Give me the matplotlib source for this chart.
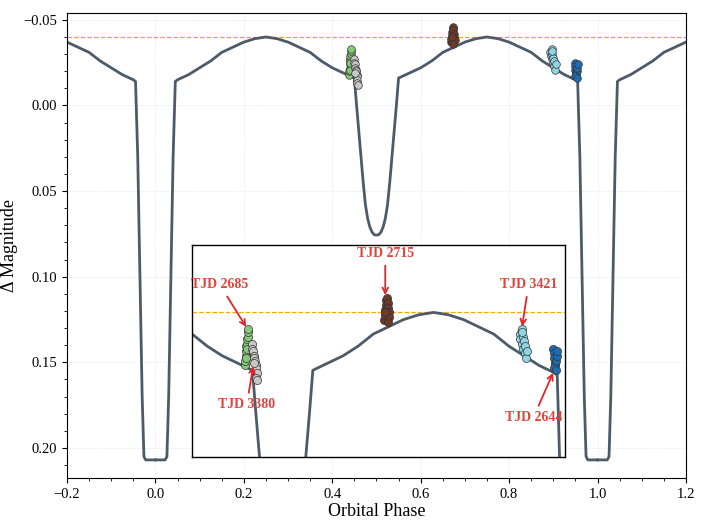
import numpy as np
import matplotlib
matplotlib.use("Agg")
import matplotlib.pyplot as plt

plt.rcParams['font.family'] = ['Liberation Serif', 'DejaVu Serif']

# model light curve, one cycle (phase, delta mag)
model_phase = [0.000, 0.022, 0.026, 0.030, 0.035, 0.040, 0.045, 0.050, 0.075, 0.100, 0.125, 0.150,
               0.175, 0.200, 0.225, 0.250, 0.275, 0.300, 0.325, 0.350, 0.375, 0.400, 0.425,
               0.450, 0.455, 0.460, 0.465, 0.470, 0.475, 0.480, 0.485, 0.490, 0.495, 0.500,
               0.505, 0.510, 0.515, 0.520, 0.525, 0.530, 0.535, 0.540, 0.545, 0.550,
               0.575, 0.600, 0.625, 0.650, 0.675, 0.700, 0.725, 0.750, 0.775, 0.800, 0.825,
               0.850, 0.875, 0.900, 0.925, 0.950, 0.955, 0.960, 0.965, 0.970, 0.974, 0.978, 1.000]
model_mag = [0.207, 0.207, 0.205, 0.170, 0.100, 0.030, -0.014, -0.015, -0.018, -0.022, -0.026, -0.031,
             -0.034, -0.037, -0.039, -0.040, -0.039, -0.037, -0.034, -0.031, -0.026, -0.022, -0.019,
             -0.016, 0.000, 0.015, 0.030, 0.045, 0.058, 0.066, 0.071, 0.074, 0.0755, 0.0757,
             0.0755, 0.074, 0.071, 0.066, 0.058, 0.045, 0.030, 0.015, 0.000, -0.016,
             -0.019, -0.022, -0.026, -0.031, -0.034, -0.037, -0.039, -0.040, -0.039, -0.037, -0.034,
             -0.031, -0.026, -0.022, -0.018, -0.015, -0.014, 0.030, 0.100, 0.170, 0.205, 0.207, 0.207]
ref_level = -0.040

# observed clusters
obs = {
    'TJD 2685': dict(color='#86c97a', phase=[0.437, 0.438, 0.439, 0.440, 0.440, 0.441, 0.441, 0.442, 0.442, 0.443, 0.439, 0.441],
                     mag=[-0.018, -0.020, -0.022, -0.024, -0.026, -0.027, -0.029, -0.030, -0.032, -0.033, -0.021, -0.025]),
    'TJD 3380': dict(color='#c8c8c8', phase=[0.449, 0.450, 0.451, 0.452, 0.453, 0.454, 0.455, 0.456, 0.457, 0.452, 0.455, 0.458],
                     mag=[-0.027, -0.025, -0.024, -0.022, -0.021, -0.020, -0.018, -0.017, -0.015, -0.019, -0.013, -0.012]),
    'TJD 2715': dict(color='#6b3a2a', phase=[0.668, 0.669, 0.670, 0.671, 0.672, 0.673, 0.674, 0.675, 0.676, 0.677, 0.670, 0.674],
                     mag=[-0.037, -0.039, -0.041, -0.043, -0.045, -0.046, -0.044, -0.042, -0.040, -0.038, -0.040, -0.036]),
    'TJD 3421': dict(color='#8fd5e3', phase=[0.893, 0.894, 0.896, 0.897, 0.898, 0.899, 0.900, 0.901, 0.902, 0.903, 0.905, 0.897],
                     mag=[-0.031, -0.029, -0.033, -0.027, -0.030, -0.025, -0.028, -0.023, -0.026, -0.021, -0.024, -0.032]),
    'TJD 2644': dict(color='#1f6bb0', phase=[0.948, 0.949, 0.950, 0.951, 0.952, 0.953, 0.954, 0.955, 0.950, 0.953],
                     mag=[-0.025, -0.023, -0.021, -0.019, -0.018, -0.020, -0.022, -0.024, -0.017, -0.016]),
}

mp = np.array(model_phase)
mm = np.array(model_mag)
line_color = '#4d5a68'

fig = plt.figure(figsize=(7.09, 5.2), dpi=100)
ax = fig.add_axes([0.0945, 0.081, 0.873, 0.894])

def draw(a, lw=2.0, s=30):
    for shift in (-1, 0, 1):
        a.plot(mp + shift, mm, color=line_color, lw=lw, zorder=2)
    a.axhline(ref_level, color='orange', ls='--', lw=0.9, zorder=1)
    for name, d in obs.items():
        a.scatter(d['phase'], d['mag'], s=s, color=d['color'], edgecolor='#333333', linewidths=0.5, zorder=3)

draw(ax)
ax.set_xlim(-0.2, 1.2)
ax.set_ylim(0.2175, -0.054)
ax.set_yticks([-0.05, 0.0, 0.05, 0.10, 0.15, 0.20])
ax.set_yticklabels(['−0.05', '0.00', '0.05', '0.10', '0.15', '0.20'])
ax.minorticks_on()
ax.tick_params(which='both', direction='out', labelsize=10.5)
ax.grid(True, color='#dddddd', lw=0.5, ls='--', alpha=0.6)
ax.set_xlabel('Orbital Phase', fontsize=13, labelpad=2)
ax.set_ylabel('Δ Magnitude', fontsize=13)

ins = fig.add_axes([0.271, 0.121, 0.526, 0.408])
draw(ins, lw=2.0, s=34)
ins.set_xlim(0.35, 0.968)
ins.set_ylim(0.020, -0.068)
ins.set_xticks([]); ins.set_yticks([])
for sp in ins.spines.values():
    sp.set_linewidth(1.0)

ann = {
    'TJD 2685': ((0.442, -0.033), (-20, 32)),
    'TJD 3380': ((0.452, -0.019), (-5, -30)),
    'TJD 2715': ((0.670, -0.046), (0, 32)),
    'TJD 3421': ((0.896, -0.033), (5, 32)),
    'TJD 2644': ((0.950, -0.016), (-15, -34)),
}
for name, (xy, off) in ann.items():
    ins.annotate(name, xy=xy, xytext=off, textcoords='offset points',
                 ha='center', va='center', color='#e0443c', fontsize=10, fontweight='bold',
                 arrowprops=dict(arrowstyle='->', color='#e0262a', lw=1.3))

fig.savefig('out.png', dpi=100)
